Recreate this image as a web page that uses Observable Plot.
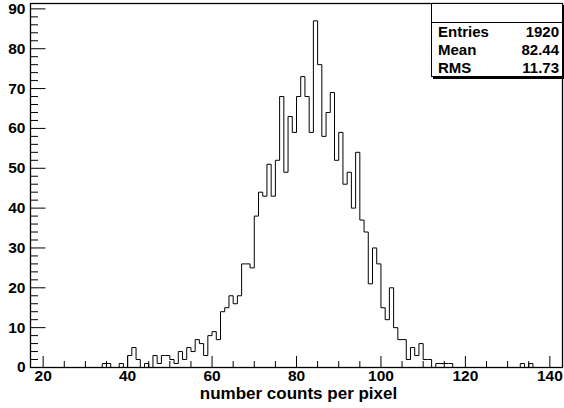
<!DOCTYPE html>
<html>
<head>
<meta charset="utf-8">
<script src="https://cdn.jsdelivr.net/npm/d3@7"></script>
<script src="https://cdn.jsdelivr.net/npm/@observablehq/plot@0.6"></script>
<style>
  html, body { margin: 0; padding: 0; background: #fff; }
  #wrap { position: relative; width: 564px; height: 408px; font-family: "Liberation Sans", Arial, sans-serif; font-weight: bold; }
  #stats { position: absolute; left: 431px; top: 3px; width: 130px; height: 72px; border: 1px solid #000; box-shadow: 2px 2px 0 #000; background: #fff; font-size: 15px; color: #000; box-sizing: content-box; }
  #stats .head { height: 18px; border-bottom: 1px solid #000; }
  #stats .row { height: 18px; line-height: 18px; display: flex; justify-content: space-between; padding: 0 3px 0 6px; }
</style>
</head>
<body>
<div id="wrap"></div>
<script>
// Histogram: bins of width 1 starting at 17
const binStart = 17;
const binWidth = 1;
const counts = [
  0,0,0,0,0,0,0,0,0,0,0,0,0,0,0,0,0,      // 17-33
  1,1,0,0,1,0,                             // 34-39
  3,5,2,0,1,0,3,1,3,3,                     // 40-49
  2,1,4,2,5,4,7,6,3,8,                     // 50-59
  9,7,14,15,18,16,18,26,26,25,             // 60-69
  38,44,43,51,43,52,68,49,63,59,           // 70-79
  68,73,68,59,87,76,58,64,69,52,           // 80-89
  59,46,49,40,54,37,34,21,30,26,           // 90-99
  15,12,20,10,7,7,2,5,3,6,                 // 100-109
  2,2,0,1,1,1,1,0,0,0,                     // 110-119
  0,0,0,0,0,0,0,0,0,0,                     // 120-129
  0,0,0,1,0,1,0,0,0,0,                     // 130-139
  0,0,0                                    // 140-142
];
const xMajor = [20, 40, 60, 80, 100, 120, 140];
const xMinor = [25, 30, 35, 45, 50, 55, 65, 70, 75, 85, 90, 95, 105, 110, 115, 125, 130, 135];
const yMajor = [0, 10, 20, 30, 40, 50, 60, 70, 80, 90];
const yMinor = [2,4,6,8,12,14,16,18,22,24,26,28,32,34,36,38,42,44,46,48,52,54,56,58,62,64,66,68,72,74,76,78,82,84,86,88];
const xTitle = "number counts per pixel";
const stats = [["Entries", "1920"], ["Mean", "82.44"], ["RMS", "11.73"]];

const pts = counts.map((c, i) => ({x: binStart + i * binWidth, y: c}));
pts.push({x: binStart + counts.length * binWidth, y: counts[counts.length - 1]});
const xMax = binStart + counts.length * binWidth;
const yMax = d3.max(counts) * 1.05;

const chart = Plot.plot({
  width: 564,
  height: 408,
  marginLeft: 30,
  marginRight: 2,
  marginTop: 3,
  marginBottom: 41,
  x: {domain: [binStart, xMax], label: null},
  y: {domain: [0, yMax], label: null},
  style: {fontFamily: "'Liberation Sans', Arial, sans-serif", fontWeight: "bold", fontSize: "15px", color: "black", background: "white"},
  marks: [
    Plot.line(pts, {x: "x", y: "y", curve: "step-after", stroke: "black", strokeWidth: 1}),
    Plot.frame({stroke: "black", strokeWidth: 1.3}),
    Plot.axisX(xMajor, {tickSize: 11, dy: -11, tickFormat: () => "", stroke: "black"}),
    Plot.axisX(xMinor, {tickSize: 6, dy: -6, tickFormat: () => "", stroke: "black"}),
    Plot.axisX(xMajor, {tickSize: 0, tickPadding: 2, fontSize: 15.5, fill: "black"}),
    Plot.axisY(yMajor, {tickSize: 15.5, dx: 15.5, tickFormat: () => "", stroke: "black"}),
    Plot.axisY(yMinor, {tickSize: 8, dx: 8, tickFormat: () => "", stroke: "black"}),
    Plot.axisY(yMajor, {tickSize: 0, tickPadding: 5, fontSize: 15.5, fill: "black"}),
    Plot.text([xTitle], {text: d => d, frameAnchor: "bottom", dy: 31, dx: 2, fontSize: 17, fontWeight: "bold", fill: "black"})
  ]
});

const wrap = document.getElementById("wrap");
wrap.appendChild(chart);

const box = document.createElement("div");
box.id = "stats";
const head = document.createElement("div");
head.className = "head";
box.appendChild(head);
for (const [k, v] of stats) {
  const row = document.createElement("div");
  row.className = "row";
  const a = document.createElement("span"); a.textContent = k;
  const b = document.createElement("span"); b.textContent = v;
  row.appendChild(a); row.appendChild(b);
  box.appendChild(row);
}
wrap.appendChild(box);
</script>
</body>
</html>
